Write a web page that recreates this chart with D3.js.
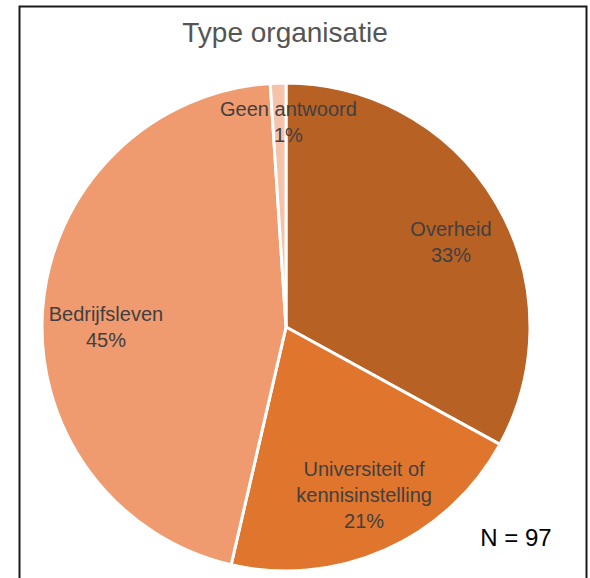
<!DOCTYPE html>
<html>
<head>
<meta charset="utf-8">
<script src="https://cdn.jsdelivr.net/npm/d3@7"></script>
<style>
  body { margin: 0; background: #fff; }
  text { font-family: "Liberation Sans", Arial, sans-serif; }
</style>
</head>
<body>
<svg width="590" height="578"></svg>
<script>
// Data (N = 97).
var categories = ["Overheid", "Universiteit of kennisinstelling", "Bedrijfsleven", "Geen antwoord"];
var labelLines = [["Overheid"], ["Universiteit of", "kennisinstelling"], ["Bedrijfsleven"], ["Geen antwoord"]];
var counts = [32, 20, 44, 1];
var percentLabels = ["33%", "21%", "45%", "1%"];
var colors = ["#b86125", "#e0752d", "#f09a6f", "#f5c2aa"];
// Label centres as fractions of the radius (Excel places them by hand-ish rules).
var labelFx = [0.676, 0.32, -0.738, 0.01];
var labelFy = [-0.348, 0.689, 0.0, -0.84];

var title = "Type organisatie";
var total = d3.sum(counts);

var svg = d3.select("svg");

// Chart frame, cut off at the bottom like the reference.
svg.append("rect")
    .attr("x", 19.5)
    .attr("y", 6.5)
    .attr("width", 567)
    .attr("height", 600)
    .attr("fill", "#fff")
    .attr("stroke", "#1a1a1a")
    .attr("stroke-width", 2);

svg.append("text")
    .attr("x", 285)
    .attr("y", 42)
    .attr("text-anchor", "middle")
    .attr("font-size", 28)
    .attr("fill", "#555")
    .text(title);

var cx = 286, cy = 327, radius = 244;

var pie = d3.pie().sort(null).value(function(d) { return d; });
var arcs = pie(counts);

var arc = d3.arc().innerRadius(0).outerRadius(radius);

var g = svg.append("g").attr("transform", "translate(" + cx + "," + cy + ")");

g.selectAll("path")
    .data(arcs)
    .enter().append("path")
    .attr("d", arc)
    .attr("fill", function(d, i) { return colors[i]; })
    .attr("stroke", "#fff")
    .attr("stroke-width", 3)
    .attr("stroke-linejoin", "round");

var labels = g.selectAll("g.label")
    .data(arcs)
    .enter().append("g")
    .attr("class", "label")
    .attr("transform", function(d, i) {
        return "translate(" + (radius * labelFx[i]) + "," + (radius * labelFy[i]) + ")";
    });

labels.each(function(d, i) {
    var lines = labelLines[i].concat([percentLabels[i]]);
    var lineHeight = 26;
    var start = -(lines.length - 1) * lineHeight / 2;
    var t = d3.select(this).append("text")
        .attr("text-anchor", "middle")
        .attr("font-size", 20)
        .attr("fill", "#404040");
    lines.forEach(function(line, j) {
        t.append("tspan")
            .attr("x", 0)
            .attr("y", start + j * lineHeight)
            .attr("dy", "0.35em")
            .text(line);
    });
});

svg.append("text")
    .attr("x", 516)
    .attr("y", 546)
    .attr("text-anchor", "middle")
    .attr("font-size", 24)
    .attr("fill", "#000")
    .text("N = " + total);
</script>
</body>
</html>
